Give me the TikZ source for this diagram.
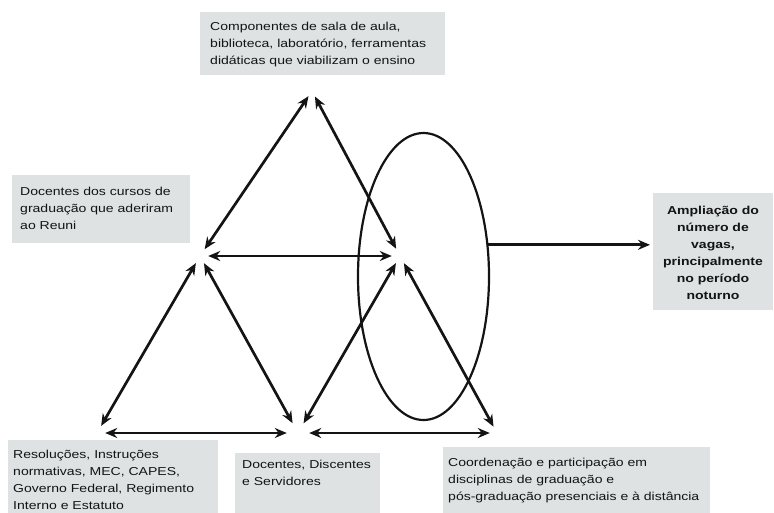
\documentclass[tikz,border=0pt]{standalone}
\usepackage{fontspec}
\newfontfamily\boxfont[FakeStretch=1.22]{Liberation Sans}
\usetikzlibrary{arrows.meta,shapes.geometric}
\definecolor{panel}{RGB}{222,226,226}
\definecolor{ink}{RGB}{20,20,20}
\begin{document}
\begin{tikzpicture}[x=1pt,y=-1pt,
  panelbox/.style={fill=panel, draw=none, inner sep=0pt, anchor=north west},
  caption/.style={anchor=north west, inner sep=0pt, align=left, text=ink,
    font=\boxfont\fontsize{11.5}{17}\selectfont},
  vertex/.style={circle, inner sep=0pt, minimum size=#1},
  link/.style={line width=2.7pt, draw=ink, {Stealth[length=12pt,width=10pt]}-{Stealth[length=12pt,width=10pt]}},
  oneway/.style={line width=2.7pt, draw=ink, -{Stealth[length=12pt,width=10pt]}}
]
\useasboundingbox (0,0) rectangle (774,512);

% grey panels
\node[panelbox, minimum width=245pt, minimum height=63pt] (topbox) at (200,12) {};
\node[panelbox, minimum width=178pt, minimum height=68pt] (leftbox) at (12,175) {};
\node[panelbox, minimum width=120pt, minimum height=117pt] (goalbox) at (653,193) {};
\node[panelbox, minimum width=210pt, minimum height=80pt] (normbox) at (8,440) {};
\node[panelbox, minimum width=145pt, minimum height=70pt] (peoplebox) at (235,453) {};
\node[panelbox, minimum width=267pt, minimum height=70pt] (coordbox) at (443,447) {};

% panel texts
\node[caption] (toptext) at (210,22) {Componentes de sala de aula,\\biblioteca, laboratório, ferramentas\\didáticas que viabilizam o ensino};
\node[caption] (lefttext) at (20,187) {Docentes dos cursos de\\graduação que aderiram\\ao Reuni};
\node[caption, anchor=north, align=center, font=\boxfont\bfseries\fontsize{11.5}{17}\selectfont] (goaltext) at (713,206) {Ampliação do\\número de\\vagas,\\principalmente\\no período\\noturno};
\node[caption] (normtext) at (13,450) {Resoluções, Instruções\\normativas, MEC, CAPES,\\Governo Federal, Regimento\\Interno e Estatuto};
\node[caption] (peopletext) at (242,460) {Docentes, Discentes\\e Servidores};
\node[caption] (coordtext) at (448,458) {Coordenação e participação em\\disciplinas de graduação e\\pós-graduação presenciais e à distância};

% meeting points of the arrows
\node[vertex=12pt] (T) at (312,91) {};
\node[vertex=16pt] (L) at (200,256) {};
\node[vertex=16pt] (R) at (400,256) {};
\node[vertex=16pt] (BL) at (97,433) {};
\node[vertex=22pt] (BM) at (298,433) {};
\node[vertex=14pt] (BR) at (497,433) {};

% ellipse
\node[ellipse, draw=ink, line width=2.2pt, minimum width=131pt, minimum height=287pt, inner sep=0pt] (E) at (423.5,276.5) {};

% relations
\draw[link] (T) -- (L);
\draw[link] (T) -- (R);
\draw[link] (L.east) -- (R.west);
\draw[link] (L) -- (BL);
\draw[link] (L) -- (BM);
\draw[link] (R) -- (BM);
\draw[link] (R) -- (BR);
\draw[link] (BL.east) -- (BM.west);
\draw[link] (BM.east) -- (BR.west);
\draw[oneway, shorten >=3pt] (E.26) -- (E.26 -| goalbox.west);
\end{tikzpicture}
\end{document}
